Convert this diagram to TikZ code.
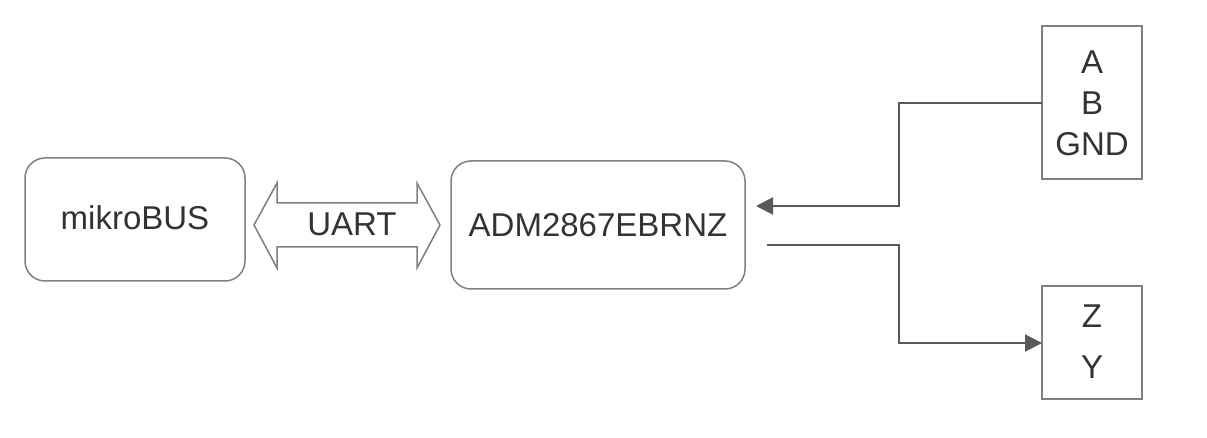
\documentclass[tikz,border=0pt]{standalone}
\usepackage{fontspec}
\setmainfont{Liberation Sans}
\usetikzlibrary{arrows.meta}
\definecolor{txt}{HTML}{333333}
\definecolor{boxc}{HTML}{7F7F7F}
\definecolor{linec}{HTML}{595959}
\begin{document}
\begin{tikzpicture}[x=1pt,y=-1pt,
  lbl/.style={text=txt,font=\fontsize{33}{41}\selectfont,inner sep=0pt},
  rbox/.style={draw=boxc,line width=1.5pt,rounded corners=20pt,fill=white},
  sbox/.style={draw=boxc,line width=1.5pt,fill=white},
  conn/.style={draw=linec,line width=2pt,-{Triangle[length=17pt,width=17pt]}}]
\useasboundingbox (0,0) rectangle (1207,438);
% boxes
\draw[rbox] (25,158) rectangle (245,281);
\node[lbl] (mb) at (135,218) {mikroBUS};
\draw[rbox] (451,161) rectangle (745,289);
\node[lbl] (adm) at (598,225) {ADM2867EBRNZ};
\draw[sbox] (1042,26) rectangle (1142,179);
\node[lbl,align=center] (ab) at (1092,103) {A\\B\\GND};
\draw[sbox] (1042,286) rectangle (1142,399);
\node[lbl,align=center] (zy) at (1092,342) {Z\\[10pt]Y};
% double arrow
\draw[draw=boxc,line width=1.5pt,fill=white,line join=miter]
  (254,225) -- (277,183) -- (277,203) -- (417,203) -- (417,183) -- (440,225)
  -- (417,268) -- (417,247) -- (277,247) -- (277,268) -- cycle;
\node[lbl] (uart) at (352,224) {UART};
% connectors
\coordinate (abL) at (1042,103);
\coordinate (inT) at (756,206);
\coordinate (outS) at (767,245);
\coordinate (zyL) at (1042,343);
\draw[conn] (abL) -- (899,103) -- (899,206) -- (inT);
\draw[conn] (outS) -- (899,245) -- (899,343) -- (zyL);
\end{tikzpicture}
\end{document}
